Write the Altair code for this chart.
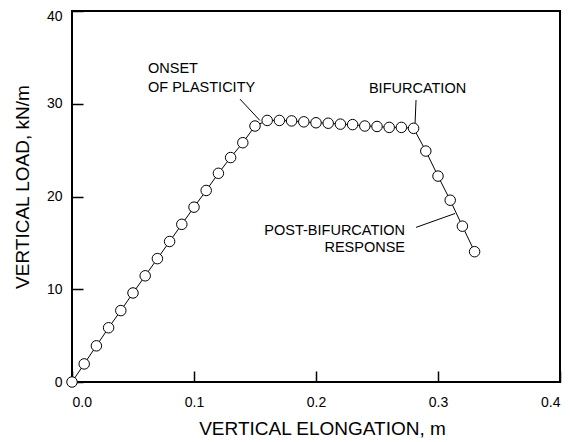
import altair as alt
import pandas as pd

# ---- data ----
elongation = [0.00, 0.01, 0.02, 0.03, 0.04, 0.05, 0.06, 0.07, 0.08, 0.09,
              0.10, 0.11, 0.12, 0.13, 0.14, 0.15, 0.16, 0.17, 0.18, 0.19,
              0.20, 0.21, 0.22, 0.23, 0.24, 0.25, 0.26, 0.27, 0.28, 0.29,
              0.30, 0.31, 0.32, 0.33]
load = [0.0, 1.95, 3.9, 5.85, 7.7, 9.6, 11.45, 13.3, 15.15, 17.0,
        18.85, 20.65, 22.5, 24.2, 25.8, 27.6, 28.2, 28.2, 28.15, 28.05,
        27.95, 27.9, 27.8, 27.75, 27.6, 27.55, 27.45, 27.45, 27.35, 24.9,
        22.2, 19.6, 16.8, 14.05]

x_tick_values = [0.0, 0.1, 0.2, 0.3, 0.4]
y_tick_values = [0, 10, 20, 30, 40]

label_text = ["ONSET", "OF PLASTICITY", "BIFURCATION", "POST-BIFURCATION", "RESPONSE"]
label_x = [0.0623, 0.0623, 0.2434, 0.273, 0.273]
label_y = [33.7, 31.7, 31.6, 16.3, 14.4]
label_align = ["left", "left", "left", "right", "right"]

leader_x = [0.1377, 0.2820, 0.2820]
leader_y = [30.5, 30.4, 16.67]
leader_x2 = [0.1540, 0.2812, 0.3140]
leader_y2 = [28.2, 27.9, 18.17]

FONT = "Liberation Sans"
W, H = 488, 371
TICK = 11  # inward tick length: axis shifted inside the frame by the tick length

curve = pd.DataFrame({"e": elongation, "p": load})
labels = pd.DataFrame({"t": label_text, "x": label_x, "y": label_y, "a": label_align})
leaders = pd.DataFrame({"x": leader_x, "y": leader_y, "x2": leader_x2, "y2": leader_y2})

xs = alt.Scale(domain=[0, 0.4], nice=False, zero=False)
ys = alt.Scale(domain=[0, 40], nice=False, zero=False)

xaxis = alt.Axis(values=x_tick_values, format=".1f", domain=False, grid=False,
                 ticks=True, tickSize=TICK, tickColor="black", tickWidth=1.5, offset=-TICK,
                 labelFontSize=14, labelPadding=13, labelColor="black", labelFont=FONT,
                 title="VERTICAL ELONGATION, m", titleFontSize=19, titleFont=FONT,
                 titleFontWeight="normal", titleColor="black", titlePadding=10,
                 titleX=W / 2 + 6)
yaxis = alt.Axis(values=y_tick_values, format="d", domain=False, grid=False,
                 ticks=True, tickSize=TICK, tickColor="black", tickWidth=1.5, offset=-TICK,
                 labelFontSize=14, labelPadding=10, labelColor="black", labelFont=FONT,
                 labelOffset={"condition": {"test": "datum.value == 40", "value": 5}, "value": 0},
                 title="VERTICAL LOAD, kN/m", titleFontSize=19, titleFont=FONT,
                 titleFontWeight="normal", titleColor="black", titlePadding=14,
                 titleY=H / 2 - 10)

line = alt.Chart(curve).mark_line(color="black", strokeWidth=1).encode(
    x=alt.X("e:Q", scale=xs, axis=xaxis),
    y=alt.Y("p:Q", scale=ys, axis=yaxis),
)
pts = alt.Chart(curve).mark_point(shape="circle", filled=True, fill="white", stroke="black",
                                  strokeWidth=1, size=110, opacity=1).encode(
    x=alt.X("e:Q", scale=xs),
    y=alt.Y("p:Q", scale=ys),
)
lead = alt.Chart(leaders).mark_rule(color="black", strokeWidth=1).encode(
    x=alt.X("x:Q", scale=xs), y=alt.Y("y:Q", scale=ys),
    x2="x2:Q", y2="y2:Q",
)
txt_left = alt.Chart(labels[labels.a == "left"]).mark_text(
    align="left", baseline="middle", font=FONT, fontSize=14.5, color="black").encode(
    x=alt.X("x:Q", scale=xs), y=alt.Y("y:Q", scale=ys), text="t:N")
txt_right = alt.Chart(labels[labels.a == "right"]).mark_text(
    align="right", baseline="middle", font=FONT, fontSize=14.5, color="black").encode(
    x=alt.X("x:Q", scale=xs), y=alt.Y("y:Q", scale=ys), text="t:N")

chart = alt.layer(line, lead, pts, txt_left, txt_right).properties(
    width=W, height=H,
    autosize=alt.AutoSizeParams(type="none"),
    padding={"left": 64, "top": 3, "right": 6, "bottom": 58},
    background="white",
).configure_view(stroke="black", strokeWidth=2)

chart.save("out.html", embed_options={"renderer": "svg", "actions": False})
